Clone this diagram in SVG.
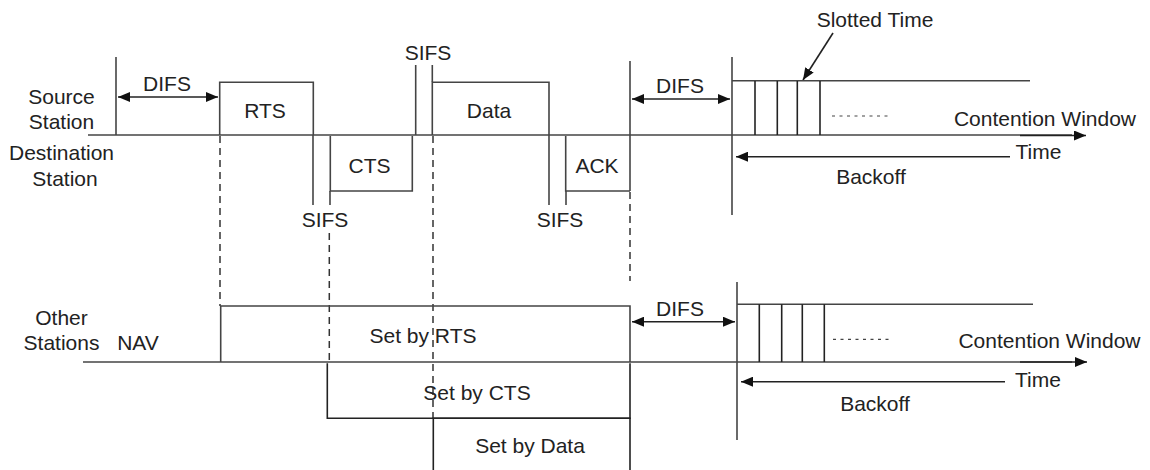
<svg xmlns="http://www.w3.org/2000/svg" width="1150" height="470" viewBox="0 0 1150 470">
<style>
text{font-family:"Liberation Sans",Arial,sans-serif;font-size:21px;fill:#222;text-anchor:middle}
.l{stroke:#444;stroke-width:1.6;fill:none}
.k{stroke:#222;stroke-width:1.6;fill:none}
.d{stroke:#333;stroke-width:1.5;fill:none;stroke-dasharray:7 5}
.dot{stroke:#444;stroke-width:1.2;fill:none;stroke-dasharray:3 4.5}
.a{stroke:#222;stroke-width:1.6;fill:none}
</style>
<defs>
<marker id="ah" viewBox="0 0 12 10" refX="12" refY="5" markerWidth="12" markerHeight="10" markerUnits="userSpaceOnUse" orient="auto-start-reverse">
<path d="M0,0 L12,5 L0,10 Z" fill="#111"/>
</marker>
</defs>
<rect width="1150" height="470" fill="#fff"/>

<g id="labels">
<text x="61.5" y="104">Source</text>
<text x="61.5" y="129">Station</text>
<text x="61.5" y="160">Destination</text>
<text x="65" y="186">Station</text>
<text x="61.5" y="325">Other</text>
<text x="61.5" y="350">Stations</text>
<text x="138" y="350">NAV</text>
</g>

<g id="connectors">
<line class="l" x1="88" y1="135" x2="1072" y2="135"/>
<line class="a" x1="1020" y1="135.5" x2="1086" y2="135.5" marker-end="url(#ah)"/>
<line class="l" x1="116" y1="57" x2="116" y2="135"/>
<line class="a" x1="118" y1="97" x2="218" y2="97" marker-start="url(#ah)" marker-end="url(#ah)"/>
<line class="l" x1="313" y1="135" x2="313" y2="205"/>
<line class="l" x1="330" y1="191" x2="330" y2="205"/>
<line class="l" x1="415.7" y1="65" x2="415.7" y2="135"/>
<line class="l" x1="432.3" y1="65" x2="432.3" y2="82"/>
<line class="l" x1="549" y1="135" x2="549" y2="205"/>
<line class="l" x1="566" y1="191" x2="566" y2="205"/>
<line class="l" x1="630" y1="61" x2="630" y2="191"/>
<line class="a" x1="632" y1="99" x2="730" y2="99" marker-start="url(#ah)" marker-end="url(#ah)"/>
<line class="l" x1="732" y1="57" x2="732" y2="215"/>
<line class="a" x1="1010" y1="156.7" x2="736" y2="156.7" marker-end="url(#ah)"/>
<line class="a" x1="833" y1="33" x2="803" y2="80" marker-end="url(#ah)"/>
<line class="dot" x1="832" y1="116" x2="890" y2="116"/>

<line class="d" x1="220" y1="136" x2="220" y2="306"/>
<line class="d" x1="329.3" y1="233" x2="329.3" y2="363"/>
<line class="d" x1="433" y1="136" x2="433" y2="418"/>
<line class="d" x1="630" y1="192" x2="630" y2="281"/>

<line class="l" x1="83" y1="362" x2="1072" y2="362"/>
<line class="a" x1="1020" y1="362" x2="1087" y2="362" marker-end="url(#ah)"/>
<line class="a" x1="632" y1="321.7" x2="735" y2="321.7" marker-start="url(#ah)" marker-end="url(#ah)"/>
<line class="l" x1="737" y1="282" x2="737" y2="440"/>
<line class="a" x1="1005" y1="381.7" x2="741" y2="381.7" marker-end="url(#ah)"/>
<line class="dot" x1="833" y1="339.3" x2="890" y2="339.3"/>
</g>

<g id="rts">
<path class="l" d="M219.7,135 V82.3 H313.3 V135"/>
<text x="265" y="118">RTS</text>
</g>
<g id="cts">
<path class="l" d="M330.3,136 V191 H412.3 V136"/>
<text x="369.5" y="173">CTS</text>
</g>
<g id="data">
<path class="l" d="M432.3,135 V82.3 H549 V135"/>
<text x="489" y="118">Data</text>
</g>
<g id="ack">
<path class="l" d="M565.7,136 V191 H630"/>
<text x="597" y="173">ACK</text>
</g>
<g id="sifs-labels">
<text x="428" y="60">SIFS</text>
<text x="325" y="227">SIFS</text>
<text x="560" y="227">SIFS</text>
</g>
<g id="difs-labels">
<text x="167" y="91">DIFS</text>
<text x="680" y="93">DIFS</text>
<text x="680" y="316">DIFS</text>
</g>

<g id="contention-top">
<line class="l" x1="732" y1="80.7" x2="1030" y2="80.7"/>
<line class="k" x1="755" y1="81" x2="755" y2="135"/>
<line class="k" x1="777.3" y1="81" x2="777.3" y2="135"/>
<line class="k" x1="797.3" y1="81" x2="797.3" y2="135"/>
<line class="k" x1="820" y1="81" x2="820" y2="135"/>
<text x="875" y="27">Slotted Time</text>
<text x="1045" y="126">Contention Window</text>
<text x="1038.5" y="159">Time</text>
<text x="871" y="184">Backoff</text>
</g>

<g id="nav-rts">
<path class="l" d="M220.7,362 V306 H630 V362"/>
<text x="423" y="343">Set by RTS</text>
</g>
<g id="nav-cts">
<path class="k" d="M327.3,363.3 V418.3 H630 V363.3"/>
<text x="477" y="400">Set by CTS</text>
</g>
<g id="nav-data">
<path class="k" d="M433.3,470 V418.3 H630 V470"/>
<text x="530" y="453">Set by Data</text>
</g>

<g id="contention-bottom">
<line class="l" x1="737" y1="304.3" x2="1033" y2="304.3"/>
<line class="k" x1="759.3" y1="304.3" x2="759.3" y2="362"/>
<line class="k" x1="781.7" y1="304.3" x2="781.7" y2="362"/>
<line class="k" x1="802.3" y1="304.3" x2="802.3" y2="362"/>
<line class="k" x1="824.3" y1="304.3" x2="824.3" y2="362"/>
<text x="1049.5" y="348">Contention Window</text>
<text x="1038" y="387">Time</text>
<text x="875" y="411">Backoff</text>
</g>
</svg>
